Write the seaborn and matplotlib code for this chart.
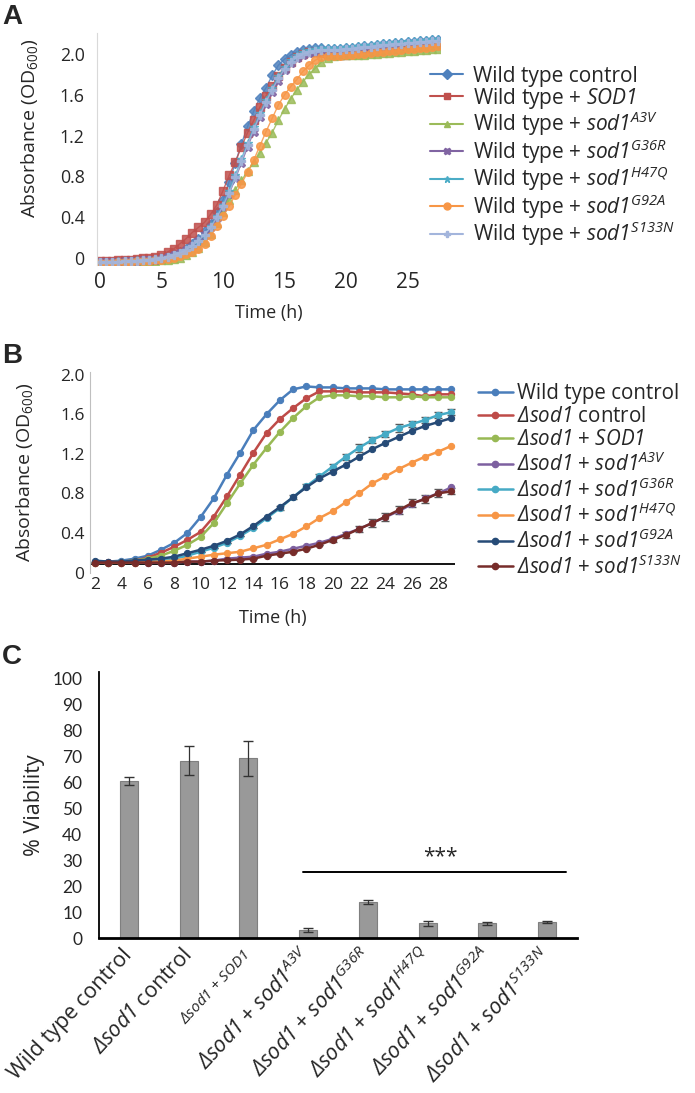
import numpy as np
import pandas as pd
import matplotlib
matplotlib.use('Agg')
import matplotlib.pyplot as plt
from matplotlib.lines import Line2D
import seaborn as sns

# ---------------- data: panel A (wild type background), every 0.5 h ----------------
time_a = [i * 0.5 for i in range(56)]
a_wt_ctrl = [-0.04, -0.04, -0.04, -0.04, -0.03, -0.03, -0.03, -0.02, -0.02, -0.01,
             0.00, 0.02, 0.04, 0.06, 0.09, 0.14, 0.19, 0.26, 0.33, 0.45,
             0.57, 0.75, 0.93, 1.12, 1.29, 1.44, 1.57, 1.67, 1.79, 1.89,
             1.95, 1.99, 2.02, 2.04, 2.05, 2.06, 2.06, 2.05, 2.05, 2.05,
             2.06, 2.06, 2.07, 2.08, 2.08, 2.09, 2.10, 2.10, 2.11, 2.11,
             2.12, 2.12, 2.13, 2.13, 2.14, 2.14]
a_sod1 = [-0.03, -0.03, -0.03, -0.02, -0.02, -0.02, -0.01, 0.00, 0.00, 0.01,
          0.03, 0.06, 0.09, 0.14, 0.19, 0.25, 0.30, 0.35, 0.43, 0.52,
          0.66, 0.81, 0.94, 1.09, 1.23, 1.35, 1.48, 1.59, 1.69, 1.78,
          1.86, 1.92, 1.97, 2.00, 2.02, 2.02, 2.01, 2.00, 1.99, 1.99,
          1.99, 2.00, 2.00, 2.01, 2.02, 2.02, 2.03, 2.04, 2.05, 2.05,
          2.06, 2.07, 2.07, 2.08, 2.09, 2.09]
a_a3v = [-0.05, -0.05, -0.05, -0.05, -0.04, -0.04, -0.04, -0.04, -0.03, -0.03,
         -0.02, -0.02, -0.01, 0.00, 0.03, 0.06, 0.10, 0.16, 0.24, 0.34,
         0.45, 0.57, 0.67, 0.76, 0.85, 0.94, 1.03, 1.13, 1.23, 1.35,
         1.46, 1.56, 1.65, 1.73, 1.80, 1.86, 1.92, 1.96, 1.98, 1.99,
         1.99, 1.99, 1.99, 1.99, 2.00, 2.00, 2.01, 2.01, 2.02, 2.02,
         2.03, 2.03, 2.04, 2.04, 2.05, 2.05]
a_g36r = [-0.04, -0.04, -0.04, -0.04, -0.03, -0.03, -0.03, -0.02, -0.02, -0.02,
          -0.01, 0.01, 0.03, 0.05, 0.08, 0.12, 0.17, 0.23, 0.30, 0.39,
          0.50, 0.63, 0.78, 0.93, 1.09, 1.24, 1.38, 1.51, 1.63, 1.74,
          1.84, 1.91, 1.96, 1.99, 2.01, 2.02, 2.02, 2.02, 2.02, 2.02,
          2.03, 2.03, 2.04, 2.05, 2.05, 2.06, 2.07, 2.07, 2.08, 2.08,
          2.09, 2.10, 2.10, 2.11, 2.11, 2.12]
a_h47q = [-0.04, -0.04, -0.04, -0.03, -0.03, -0.03, -0.02, -0.02, -0.02, -0.01,
          0.00, 0.01, 0.03, 0.05, 0.08, 0.12, 0.17, 0.23, 0.31, 0.41,
          0.52, 0.66, 0.81, 0.97, 1.13, 1.28, 1.42, 1.55, 1.67, 1.78,
          1.87, 1.94, 1.99, 2.02, 2.04, 2.05, 2.06, 2.06, 2.06, 2.06,
          2.07, 2.07, 2.08, 2.09, 2.09, 2.10, 2.11, 2.11, 2.12, 2.12,
          2.13, 2.13, 2.14, 2.14, 2.15, 2.15]
a_g92a = [-0.05, -0.05, -0.05, -0.04, -0.04, -0.04, -0.03, -0.03, -0.03, -0.02,
          -0.02, -0.01, 0.00, 0.02, 0.04, 0.06, 0.09, 0.14, 0.22, 0.31,
          0.41, 0.51, 0.62, 0.73, 0.84, 0.96, 1.10, 1.24, 1.37, 1.50,
          1.60, 1.68, 1.75, 1.83, 1.89, 1.94, 1.97, 1.98, 1.98, 1.98,
          1.99, 1.99, 2.00, 2.00, 2.01, 2.02, 2.02, 2.03, 2.03, 2.04,
          2.05, 2.05, 2.06, 2.06, 2.07, 2.08]
a_s133n = [-0.04, -0.04, -0.04, -0.04, -0.03, -0.03, -0.03, -0.02, -0.02, -0.01,
           0.00, 0.01, 0.03, 0.05, 0.08, 0.12, 0.17, 0.23, 0.30, 0.40,
           0.51, 0.64, 0.79, 0.95, 1.11, 1.26, 1.40, 1.53, 1.65, 1.76,
           1.85, 1.92, 1.97, 2.00, 2.02, 2.03, 2.04, 2.04, 2.04, 2.04,
           2.05, 2.05, 2.06, 2.07, 2.07, 2.08, 2.09, 2.09, 2.10, 2.10,
           2.11, 2.11, 2.12, 2.12, 2.13, 2.13]

# \mathsf is mapped to the italic face (keeps digits and Δ italic too)
labels_a = ['Wild type control',
            'Wild type + $\\mathsf{SOD1}$',
            'Wild type + $\\mathsf{sod1}^{\\mathsf{A3V}}$',
            'Wild type + $\\mathsf{sod1}^{\\mathsf{G36R}}$',
            'Wild type + $\\mathsf{sod1}^{\\mathsf{H47Q}}$',
            'Wild type + $\\mathsf{sod1}^{\\mathsf{G92A}}$',
            'Wild type + $\\mathsf{sod1}^{\\mathsf{S133N}}$']
series_a = [a_wt_ctrl, a_sod1, a_a3v, a_g36r, a_h47q, a_g92a, a_s133n]
colors_a = ['#4F81BD', '#C0504D', '#9BBB59', '#8064A2', '#4BACC6', '#F79646', '#A3B5DC']
markers_a = ['D', 's', '^', 'X', '*', 'o', 'P']

# ---------------- data: panel B (delta sod1 background), every hour ----------------
time_b = list(range(2, 30))
b_wt_ctrl = [0.11, 0.11, 0.12, 0.14, 0.17, 0.23, 0.30, 0.40, 0.56, 0.75,
             0.99, 1.21, 1.44, 1.60, 1.74, 1.85, 1.88, 1.87, 1.87, 1.86,
             1.86, 1.86, 1.85, 1.85, 1.85, 1.85, 1.85, 1.85]
b_dsod1 = [0.11, 0.11, 0.11, 0.12, 0.15, 0.20, 0.26, 0.33, 0.41, 0.565,
           0.77, 0.99, 1.21, 1.41, 1.55, 1.66, 1.76, 1.83, 1.83, 1.83,
           1.82, 1.82, 1.82, 1.81, 1.80, 1.78, 1.80, 1.80]
b_sod1 = [0.10, 0.10, 0.11, 0.12, 0.14, 0.17, 0.22, 0.28, 0.36, 0.50,
          0.70, 0.90, 1.09, 1.26, 1.42, 1.56, 1.68, 1.77, 1.79, 1.79,
          1.78, 1.78, 1.77, 1.77, 1.78, 1.77, 1.77, 1.77]
b_a3v = [0.10, 0.10, 0.10, 0.10, 0.10, 0.10, 0.10, 0.11, 0.11, 0.12,
         0.14, 0.15, 0.16, 0.19, 0.21, 0.24, 0.27, 0.30, 0.34, 0.39,
         0.44, 0.50, 0.56, 0.62, 0.69, 0.75, 0.80, 0.86]
b_g36r = [0.11, 0.10, 0.11, 0.11, 0.12, 0.13, 0.14, 0.17, 0.21, 0.25,
          0.30, 0.37, 0.45, 0.55, 0.65, 0.76, 0.87, 0.97, 1.07, 1.17,
          1.26, 1.34, 1.40, 1.46, 1.50, 1.54, 1.59, 1.62]
b_h47q = [0.10, 0.10, 0.10, 0.10, 0.11, 0.11, 0.12, 0.14, 0.16, 0.18,
          0.195, 0.21, 0.245, 0.28, 0.335, 0.39, 0.465, 0.55, 0.62, 0.71,
          0.80, 0.90, 0.97, 1.045, 1.11, 1.17, 1.22, 1.28]
b_g92a = [0.12, 0.11, 0.11, 0.12, 0.13, 0.14, 0.16, 0.195, 0.23, 0.27,
          0.32, 0.385, 0.47, 0.565, 0.66, 0.76, 0.86, 0.95, 1.02, 1.09,
          1.17, 1.245, 1.31, 1.37, 1.43, 1.48, 1.52, 1.56]
b_s133n = [0.10, 0.10, 0.10, 0.10, 0.10, 0.10, 0.10, 0.11, 0.11, 0.12,
           0.125, 0.13, 0.14, 0.17, 0.19, 0.21, 0.24, 0.28, 0.33, 0.38,
           0.44, 0.50, 0.565, 0.63, 0.70, 0.74, 0.80, 0.82]
# visible error bars (sd) in panel B
err_g36r = [0, 0, 0, 0, 0, 0, 0, 0, 0, 0,
            0, 0, 0, 0, 0.02, 0.02, 0.02, 0.03, 0.03, 0.03,
            0.04, 0.03, 0.03, 0.04, 0.03, 0.03, 0.03, 0.03]
err_s133n = [0, 0, 0, 0, 0, 0, 0, 0, 0, 0,
             0, 0, 0, 0, 0, 0, 0, 0, 0.02, 0.03,
             0.03, 0.04, 0.04, 0.04, 0.04, 0.04, 0.04, 0.03]

labels_b = ['Wild type control',
            '$\\mathsf{Δsod1}$ control',
            '$\\mathsf{Δsod1}$ + $\\mathsf{SOD1}$',
            '$\\mathsf{Δsod1}$ + $\\mathsf{sod1}^{\\mathsf{A3V}}$',
            '$\\mathsf{Δsod1}$ + $\\mathsf{sod1}^{\\mathsf{G36R}}$',
            '$\\mathsf{Δsod1}$ + $\\mathsf{sod1}^{\\mathsf{H47Q}}$',
            '$\\mathsf{Δsod1}$ + $\\mathsf{sod1}^{\\mathsf{G92A}}$',
            '$\\mathsf{Δsod1}$ + $\\mathsf{sod1}^{\\mathsf{S133N}}$']
series_b = [b_wt_ctrl, b_dsod1, b_sod1, b_a3v, b_g36r, b_h47q, b_g92a, b_s133n]
colors_b = ['#4A7EBB', '#BE4B48', '#98B954', '#7D60A0', '#46AAC5', '#F79646', '#264B77', '#772C2A']

# ---------------- data: panel C (viability) ----------------
labels_c = ['Wild type control',
            '$\\mathsf{Δsod1}$ control',
            '$\\mathsf{Δsod1}$ + $\\mathsf{SOD1}$',
            '$\\mathsf{Δsod1}$ + $\\mathsf{sod1}^{\\mathsf{A3V}}$',
            '$\\mathsf{Δsod1}$ + $\\mathsf{sod1}^{\\mathsf{G36R}}$',
            '$\\mathsf{Δsod1}$ + $\\mathsf{sod1}^{\\mathsf{H47Q}}$',
            '$\\mathsf{Δsod1}$ + $\\mathsf{sod1}^{\\mathsf{G92A}}$',
            '$\\mathsf{Δsod1}$ + $\\mathsf{sod1}^{\\mathsf{S133N}}$']
viability = [60.6, 68.3, 69.2, 3.2, 14.0, 5.8, 5.8, 6.2]
viability_err = [1.5, 5.6, 6.6, 0.7, 0.8, 0.9, 0.5, 0.3]

sns.set_style('white')
plt.rcParams['font.family'] = ['Open Sans', 'DejaVu Sans']
plt.rcParams['mathtext.fontset'] = 'custom'
plt.rcParams['mathtext.rm'] = 'Open Sans'
plt.rcParams['mathtext.it'] = 'Open Sans:italic'
plt.rcParams['mathtext.sf'] = 'Open Sans:italic'
plt.rcParams['mathtext.bf'] = 'Open Sans:bold'

fig = plt.figure(figsize=(6.95, 10.93), dpi=100)

# ================= Panel A =================
axA = fig.add_axes([0.1396, 0.7575, 0.4935, 0.2123])
dfA = pd.DataFrame({'time': np.tile(time_a, len(series_a)),
                    'od': np.concatenate(series_a),
                    'strain': np.repeat(labels_a, len(time_a))})
sns.lineplot(data=dfA, x='time', y='od', hue='strain', style='strain',
             hue_order=labels_a, style_order=labels_a,
             palette=dict(zip(labels_a, colors_a)),
             markers=dict(zip(labels_a, markers_a)), dashes=False,
             linewidth=1.0, markersize=5.5, alpha=0.85, legend=False, ax=axA)
for ln in axA.lines:
    ln.set_markeredgecolor(ln.get_color())
    ln.set_markeredgewidth(1.0)
axA.set_xlim(-0.24, 27.64)
axA.set_ylim(-0.069, 2.206)
axA.set_yticks([0, 0.4, 0.8, 1.2, 1.6, 2.0])
axA.set_yticklabels(['0', '0.4', '0.8', '1.2', '1.6', '2.0'], fontsize=12.8)
axA.set_xticks([0, 5, 10, 15, 20, 25])
axA.set_xticklabels(['0', '5', '10', '15', '20', '25'], fontsize=15)
axA.tick_params(axis='y', length=0, pad=9)
axA.tick_params(axis='x', length=0, pad=5)
for s in ['top', 'right', 'bottom']:
    axA.spines[s].set_visible(False)
axA.spines['left'].set_color('#d9d9d9')
axA.set_xlabel('Time (h)', fontsize=13, labelpad=8)
axA.set_ylabel('Absorbance (OD$_{600}$)', fontsize=14)
axA.yaxis.set_label_coords(-0.165, 0.59)

hA = [Line2D([], [], color=c, marker=m, markersize=5, mec=c, lw=1.5)
      for c, m in zip(colors_a, markers_a)]
axA.legend(hA, labels_a, loc='center left', bbox_to_anchor=(0.6187, 0.8564),
           bbox_transform=fig.transFigure, frameon=False, fontsize=15,
           handlelength=1.6, handletextpad=0.45, labelspacing=-0.05,
           borderpad=0, borderaxespad=0)

# ================= Panel B =================
axB = fig.add_axes([0.1295, 0.4762, 0.5252, 0.1834])
dfB = pd.DataFrame({'time': np.tile(time_b, len(series_b)),
                    'od': np.concatenate(series_b),
                    'strain': np.repeat(labels_b, len(time_b))})
sns.lineplot(data=dfB, x='time', y='od', hue='strain', style='strain',
             hue_order=labels_b, style_order=labels_b,
             palette=dict(zip(labels_b, colors_b)),
             markers=dict(zip(labels_b, ['o'] * 8)), dashes=False,
             linewidth=1.8, markersize=4.5, legend=False, ax=axB)
for ln in axB.lines:
    ln.set_markeredgecolor(ln.get_color())
axB.errorbar(time_b, b_g36r, yerr=err_g36r, fmt='none', ecolor='#595959',
             elinewidth=0.8, capsize=3, zorder=1)
axB.errorbar(time_b, b_s133n, yerr=err_s133n, fmt='none', ecolor='#595959',
             elinewidth=0.8, capsize=3, zorder=1)
axB.axhline(0.086, color='black', lw=1.3, zorder=0.5)
axB.set_xlim(1.62, 29.27)
axB.set_ylim(0, 2.025)
axB.set_yticks([0, 0.4, 0.8, 1.2, 1.6, 2.0])
axB.set_yticklabels(['0', '0.4', '0.8', '1.2', '1.6', '2.0'], fontsize=12.5)
axB.set_xticks(list(range(2, 29, 2)))
axB.set_xticklabels([str(v) for v in range(2, 29, 2)], fontsize=12.5)
axB.tick_params(axis='y', length=0, pad=4)
axB.tick_params(axis='x', length=0, pad=3)
for s in ['top', 'right', 'bottom']:
    axB.spines[s].set_visible(False)
axB.spines['left'].set_color('#bfbfbf')
axB.set_xlabel('Time (h)', fontsize=13, labelpad=12)
axB.set_ylabel('Absorbance (OD$_{600}$)', fontsize=14)
axB.yaxis.set_label_coords(-0.15, 0.5)

hB = [Line2D([], [], color=c, marker='o', markersize=4.5, mec=c, lw=1.8)
      for c in colors_b]
axB.legend(hB, labels_b, loc='center left', bbox_to_anchor=(0.6878, 0.560),
           bbox_transform=fig.transFigure, frameon=False, fontsize=14.8,
           handlelength=1.7, handletextpad=0.2, labelspacing=0.1,
           borderpad=0, borderaxespad=0)

# ================= Panel C =================
axC = fig.add_axes([0.1424, 0.1415, 0.6878, 0.2439])
keys_c = ['c%d' % i for i in range(len(viability))]
sns.barplot(x=keys_c, y=viability, color='#999999', edgecolor='#7f7f7f',
            linewidth=0.8, width=0.3, errorbar=None, saturation=1, ax=axC)
axC.errorbar(range(len(viability)), viability, yerr=viability_err, fmt='none',
             ecolor='#333333', elinewidth=0.9, capsize=3.5)
axC.plot([2.91, 7.31], [25.6, 25.6], color='black', lw=1.4)
axC.text(5.21, 31.5, '***', ha='center', va='center', fontsize=15)
axC.set_xlim(-0.5, 7.5)
axC.set_ylim(0, 102.5)
axC.set_yticks(range(0, 101, 10))
axC.set_yticklabels([str(v) for v in range(0, 101, 10)], fontsize=12.5,
                    family=['Lato', 'DejaVu Sans'])
axC.set_xticks(range(len(viability)))
axC.set_xticklabels(labels_c, rotation=47, ha='right', va='center',
                    rotation_mode='anchor', fontsize=15.5)
axC.get_xticklabels()[2].set_fontsize(11)
axC.tick_params(axis='y', length=0, pad=12)
axC.tick_params(axis='x', length=0, pad=10)
for s in ['top', 'right']:
    axC.spines[s].set_visible(False)
axC.spines['left'].set_color('black')
axC.spines['left'].set_linewidth(1.3)
axC.spines['bottom'].set_color('black')
axC.spines['bottom'].set_linewidth(2)
axC.set_xlabel('')
axC.set_ylabel('% Viability', fontsize=15.5)
axC.yaxis.set_label_coords(-0.113, 0.5)

# panel letters
for letter, y in [('A', 0.984), ('B', 0.674), ('C', 0.399)]:
    fig.text(0.003, y, letter, fontsize=20, fontweight='bold',
             family=['Liberation Sans', 'DejaVu Sans'], va='center', ha='left')

fig.savefig('out.png', dpi=100)
